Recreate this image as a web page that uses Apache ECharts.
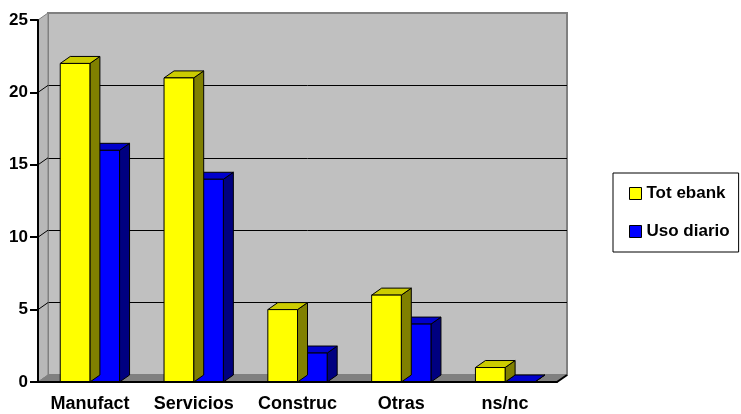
<!DOCTYPE html>
<html>
<head>
<meta charset="utf-8">
<script src="https://cdn.jsdelivr.net/npm/echarts@6/dist/echarts.min.js"></script>
<style>
  html, body { margin: 0; background: #fff; }
  #chart { width: 741px; height: 414px; }
</style>
</head>
<body>
<div id="chart"></div>
<script>
const categories = ['Manufact', 'Servicios', 'Construc', 'Otras', 'ns/nc'];
const totEbank = [22, 21, 5, 6, 1];
const usoDiario = [16, 14, 2, 4, 0];
const yTicks = [0, 5, 10, 15, 20, 25];

// depth of the fake 3d walls and bars
const DX = 10, DY = -7;
const FONT = '"Liberation Sans", Arial, sans-serif';

const barColors = [
  { front: '#ffff00', top: '#cccc00', side: '#808000' },
  { front: '#0000ff', top: '#0000cc', side: '#000080' }
];

const chart = echarts.init(document.getElementById('chart'));

function renderBar(slot) {
  return function (params, api) {
    const idx = api.value(0);
    const v = api.value(1);
    const base = api.coord([idx, 0]);
    const top = api.coord([idx, v]);
    const band = api.size([1, 0])[0];
    const bw = band / 3.5;
    const x0 = base[0] - bw + slot * bw;
    const x1 = x0 + bw;
    const c = barColors[slot];
    const line = { stroke: '#000', lineWidth: 1 };
    return {
      type: 'group',
      children: [
        {
          type: 'polygon',
          shape: { points: [[x1, base[1]], [x1, top[1]], [x1 + DX, top[1] + DY], [x1 + DX, base[1] + DY]] },
          style: Object.assign({ fill: c.side }, line)
        },
        {
          type: 'polygon',
          shape: { points: [[x0, top[1]], [x1, top[1]], [x1 + DX, top[1] + DY], [x0 + DX, top[1] + DY]] },
          style: Object.assign({ fill: c.top }, line)
        },
        {
          type: 'rect',
          shape: { x: x0, y: top[1], width: bw, height: base[1] - top[1] },
          style: Object.assign({ fill: c.front }, line)
        }
      ]
    };
  };
}

function renderWalls(params, api) {
  const cs = params.coordSys;
  const x = cs.x, y = cs.y, w = cs.width, h = cs.height;
  const children = [
    {
      type: 'polygon',
      shape: { points: [[x, y + h], [x, y], [x + DX, y + DY], [x + DX, y + h + DY]] },
      style: { fill: '#b8b8b8', stroke: '#808080', lineWidth: 1 }
    },
    {
      type: 'polygon',
      shape: { points: [[x, y + h], [x + w, y + h], [x + w + DX, y + h + DY], [x + DX, y + h + DY]] },
      style: { fill: '#808080', stroke: '#808080', lineWidth: 1 }
    },
    {
      type: 'line',
      shape: { x1: x + w, y1: y + h, x2: x + w + DX, y2: y + h + DY },
      style: { stroke: '#000', lineWidth: 2 }
    }
  ];
  yTicks.forEach(function (t) {
    if (t === 0 || t === yTicks[yTicks.length - 1]) return;
    const p = api.coord([0, t]);
    children.push({
      type: 'line',
      shape: { x1: x, y1: p[1], x2: x + DX, y2: p[1] + DY },
      style: { stroke: '#000', lineWidth: 1 }
    });
  });
  return { type: 'group', children: children };
}

const option = {
  animation: false,
  backgroundColor: '#fff',
  grid: [
    { left: 38, right: 184, top: 20, bottom: 32 },
    { left: 38 + DX, right: 184 - DX, top: 20 + DY, bottom: 32 - DY, show: true,
      backgroundColor: '#c0c0c0', borderColor: '#808080', borderWidth: 2 }
  ],
  xAxis: [
    {
      type: 'category', gridIndex: 0, data: categories,
      axisLine: { lineStyle: { color: '#000', width: 2 } },
      axisTick: { length: 6, lineStyle: { color: '#000', width: 2 } },
      axisLabel: { color: '#000', fontFamily: FONT, fontWeight: 'bold', fontSize: 18, margin: 13, interval: 0, hideOverlap: false },
      z: 5
    },
    { type: 'category', gridIndex: 1, data: categories, show: false }
  ],
  yAxis: [
    {
      type: 'value', gridIndex: 0, min: 0, max: 25, interval: 5,
      axisLine: { show: true, lineStyle: { color: '#000', width: 2 } },
      axisTick: { show: true, length: 8, lineStyle: { color: '#000', width: 2 } },
      axisLabel: { color: '#000', fontFamily: FONT, fontWeight: 'bold', fontSize: 17, margin: 10 },
      splitLine: { show: false },
      z: 5
    },
    {
      type: 'value', gridIndex: 1, min: 0, max: 25, interval: 5,
      axisLine: { show: false }, axisTick: { show: false }, axisLabel: { show: false },
      splitLine: { show: true, showMinLine: false, showMaxLine: false, lineStyle: { color: '#000', width: 1 } }
    }
  ],
  legend: {
    orient: 'vertical',
    left: 613, top: 173,
    padding: [12, 9, 12, 16],
    itemGap: 21,
    itemWidth: 12, itemHeight: 12,
    borderColor: '#000', borderWidth: 1,
    icon: 'rect',
    textStyle: { color: '#000', fontFamily: FONT, fontWeight: 'bold', fontSize: 17 },
    data: [
      { name: 'Tot ebank', itemStyle: { color: '#ffff00', borderColor: '#000', borderWidth: 1 } },
      { name: 'Uso diario', itemStyle: { color: '#0000ff', borderColor: '#000', borderWidth: 1 } }
    ]
  },
  series: [
    {
      type: 'custom', name: 'walls', xAxisIndex: 0, yAxisIndex: 0, z: 1, silent: true,
      renderItem: renderWalls, data: [[0, 0]]
    },
    {
      type: 'custom', name: 'Tot ebank', xAxisIndex: 0, yAxisIndex: 0, z: 3,
      itemStyle: { color: '#ffff00', borderColor: '#000', borderWidth: 1 },
      renderItem: renderBar(0), data: totEbank.map(function (v, i) { return [i, v]; })
    },
    {
      type: 'custom', name: 'Uso diario', xAxisIndex: 0, yAxisIndex: 0, z: 2,
      itemStyle: { color: '#0000ff', borderColor: '#000', borderWidth: 1 },
      renderItem: renderBar(1), data: usoDiario.map(function (v, i) { return [i, v]; })
    }
  ]
};

chart.setOption(option);
</script>
</body>
</html>
